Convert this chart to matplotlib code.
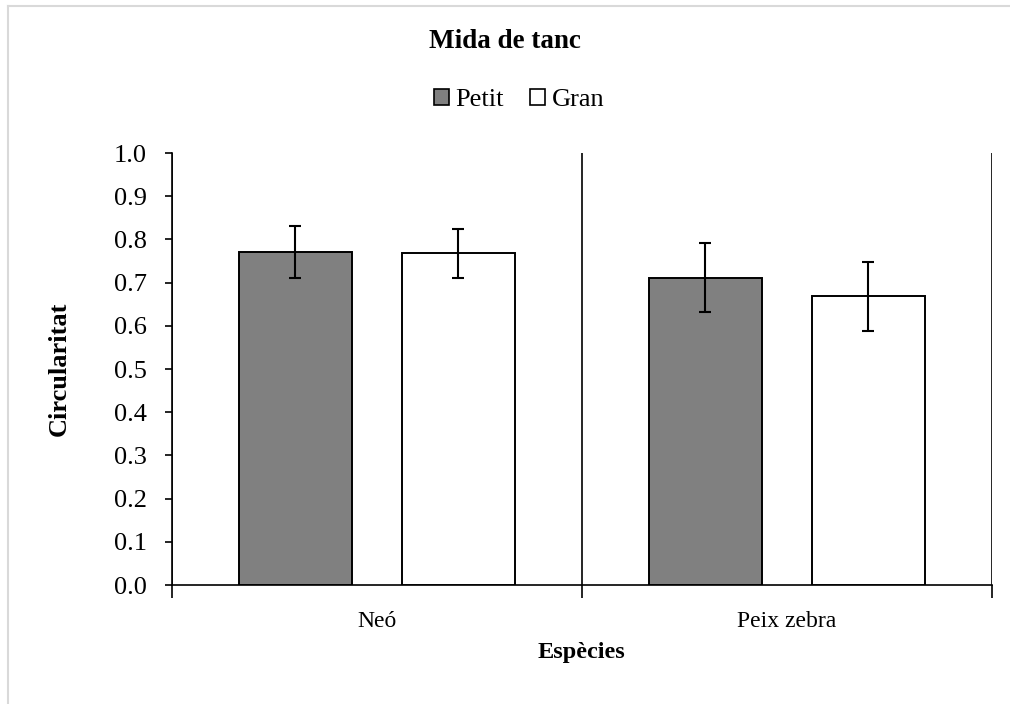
import matplotlib
matplotlib.use("Agg")
import matplotlib.pyplot as plt
from matplotlib.lines import Line2D
from matplotlib.patches import Patch
import numpy as np

# Data
species = ["Neó", "Peix zebra"]
series = ["Petit", "Gran"]
petit_mean = [0.771, 0.711]
petit_err = [0.061, 0.080]
gran_mean = [0.768, 0.668]
gran_err = [0.057, 0.080]
y_ticks = [0.0, 0.1, 0.2, 0.3, 0.4, 0.5, 0.6, 0.7, 0.8, 0.9, 1.0]

plt.rcParams["font.family"] = ["Liberation Serif", "DejaVu Serif"]

W, H = 1010, 704
fig = plt.figure(figsize=(W / 100, H / 100), dpi=100)
ax = fig.add_axes([172 / W, 1 - 585 / H, (991.5 - 172) / W, (585 - 153) / H])

x = np.arange(len(species))
bw = 0.276
off = 0.199
ekw = dict(ecolor="black", elinewidth=1.5, capsize=4.5, capthick=1.5)
ax.bar(x - off, petit_mean, bw, yerr=petit_err, color="#808080",
       edgecolor="black", linewidth=1.4, error_kw=ekw, zorder=3)
ax.bar(x + off, gran_mean, bw, yerr=gran_err, color="white",
       edgecolor="black", linewidth=1.4, error_kw=ekw, zorder=3)

ax.set_xlim(-0.5, len(species) - 0.5)
ax.set_ylim(0, 1.0)
ax.set_yticks(y_ticks)
ax.set_yticklabels([f"{v:.1f}" for v in y_ticks], fontsize=19)
ax.set_xticks(x)
ax.set_xticklabels(species, fontsize=17)
ax.set_xticks(np.arange(len(species) + 1) - 0.5, minor=True)
ax.tick_params(axis="x", which="major", length=0, pad=19)
ax.tick_params(axis="x", which="minor", length=9.5, width=1.2, direction="out")
ax.tick_params(axis="y", length=5, width=1.2, direction="out", pad=13)
ax.grid(axis="x", which="minor", color="black", linewidth=1.2, zorder=1)

for s in ["top", "right"]:
    ax.spines[s].set_visible(False)
for s in ["left", "bottom"]:
    ax.spines[s].set_linewidth(1.2)

ax.set_xlabel("Espècies", fontsize=17.5, fontweight="bold", labelpad=7)
ax.set_ylabel("Circularitat", fontsize=19, fontweight="bold", labelpad=31)

fig.text(0.5, 1 - 42 / H, "Mida de tanc", ha="center", va="center",
         fontsize=19.5, fontweight="bold")

handles = [Patch(facecolor="#808080", edgecolor="black", linewidth=1.2),
           Patch(facecolor="white", edgecolor="black", linewidth=1.2)]
fig.legend(handles, series, loc="center", bbox_to_anchor=(519 / W, 1 - 100 / H),
           ncol=2, frameon=False, fontsize=19, handlelength=0.57,
           handleheight=0.57, handletextpad=0.25, columnspacing=1.0,
           borderpad=0, borderaxespad=0)

# Light grey chart-area border
fig.add_artist(Line2D([7.7 / W, 7.7 / W], [0, 1 - 5.8 / H], transform=fig.transFigure,
                      color="#d9d9d9", linewidth=1.5))
fig.add_artist(Line2D([7.7 / W, 1], [1 - 5.8 / H, 1 - 5.8 / H], transform=fig.transFigure,
                      color="#d9d9d9", linewidth=1.5))

fig.savefig("out.png", dpi=100, facecolor="white")
